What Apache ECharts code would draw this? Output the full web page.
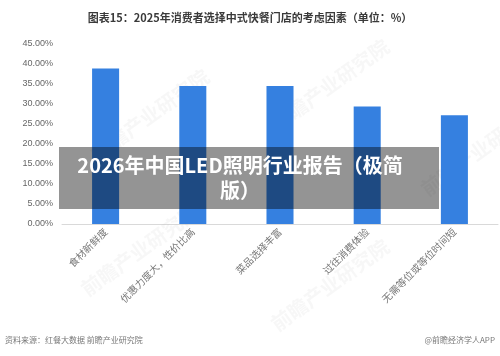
<!DOCTYPE html>
<html>
<head>
<meta charset="utf-8">
<script src="https://cdn.jsdelivr.net/npm/echarts@6/dist/echarts.min.js"></script>
<style>
html, body { margin: 0; padding: 0; background: #fff; }
#main { width: 500px; height: 356px; }
</style>
</head>
<body>
<div id="main"></div>
<script>
// 数据
var categories = ['食材新鲜度', '优惠力度大，性价比高', '菜品选择丰富', '过往消费体验', '无需等位或等位时间短'];
var shares = [38.9, 34.5, 34.5, 29.4, 27.2];
var titleText = '图表15：2025年消费者选择中式快餐门店的考虑因素（单位：%）';
var bannerLines = ['2026年中国LED照明行业报告（极简', '版）'];
var sourceText = '资料来源：红餐大数据 前瞻产业研究院';
var brandText = '@前瞻经济学人APP';

var myChart = echarts.init(document.getElementById('main'));
var font = '"Noto Sans CJK SC", sans-serif';

// 水印
var marks = [];
[[150, 115], [330, 85], [480, 150], [140, 250], [330, 285]].forEach(function (p) {
    marks.push({
        type: 'text', x: p[0], y: p[1], rotation: Math.PI / 5, z: 1,
        style: { text: '前瞻产业研究院', fill: 'rgba(190,190,190,0.12)', font: 'bold 20px ' + font, align: 'center', verticalAlign: 'middle' }
    });
});

myChart.setOption({
    animation: false,
    title: {
        text: titleText,
        left: 'center',
        top: 7,
        textStyle: { fontFamily: font, fontSize: 11, fontWeight: 'bold', color: '#3a3a3a' }
    },
    grid: { left: 62, right: 2, top: 44, bottom: 132 },
    xAxis: {
        type: 'category',
        data: categories,
        axisLine: { lineStyle: { color: '#d9d9d9' } },
        axisTick: { show: false },
        axisLabel: { rotate: 45, interval: 0, fontFamily: font, fontSize: 10, color: '#777', margin: 6 }
    },
    yAxis: {
        type: 'value',
        min: 0,
        max: 45,
        interval: 5,
        axisLine: { show: false },
        axisTick: { show: false },
        splitLine: { show: false },
        axisLabel: {
            fontFamily: 'Liberation Sans, sans-serif', fontSize: 9, color: '#666', margin: 9,
            formatter: function (v) { return v.toFixed(2) + '%'; }
        }
    },
    series: [{
        type: 'bar',
        data: shares,
        barWidth: '31%',
        itemStyle: { color: '#3580e0' },
        z: 2
    }],
    graphic: marks.concat([
        {
            type: 'rect', z: 10,
            shape: { x: 59, y: 147, width: 380, height: 62 },
            style: { fill: 'rgba(0,0,0,0.42)' }
        },
        {
            type: 'text', z: 11, x: 240, y: 165,
            style: { text: bannerLines[0], fill: '#fff', font: 'bold 20px ' + font, align: 'center', verticalAlign: 'middle' }
        },
        {
            type: 'text', z: 11, x: 240, y: 190,
            style: { text: bannerLines[1], fill: '#fff', font: 'bold 20px ' + font, align: 'center', verticalAlign: 'middle' }
        },
        {
            type: 'text', x: 5, y: 340,
            style: { text: sourceText, fill: '#777', font: '8px ' + font, verticalAlign: 'middle' }
        },
        {
            type: 'text', x: 495, y: 340,
            style: { text: brandText, fill: '#777', font: '8px ' + font, align: 'right', verticalAlign: 'middle' }
        }
    ])
});
</script>
</body>
</html>
